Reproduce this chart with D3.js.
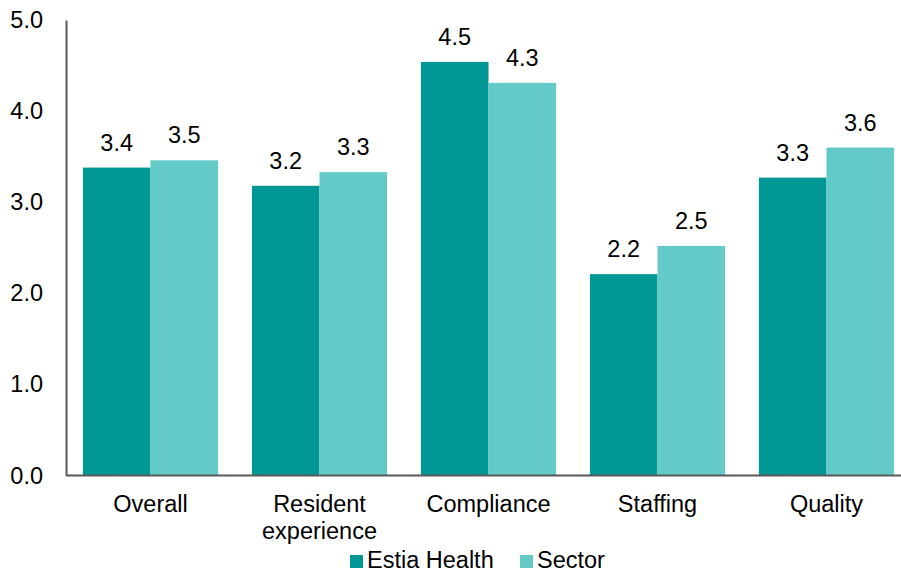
<!DOCTYPE html>
<html><head><meta charset="utf-8">
<script src="https://cdn.jsdelivr.net/npm/d3@7"></script>
<style>body{margin:0;background:#fff}svg{display:block}text{font-family:"Liberation Sans",Arial,sans-serif;fill:#000}</style>
</head><body>
<svg id="c" width="901" height="574"></svg>
<script>
const categories = [["Overall"], ["Resident", "experience"], ["Compliance"], ["Staffing"], ["Quality"]];
const seriesNames = ["Estia Health", "Sector"];
const estia = [3.38, 3.18, 4.54, 2.21, 3.27];
const sector = [3.46, 3.33, 4.31, 2.52, 3.60];
const yTicks = [0, 1, 2, 3, 4, 5];
const colors = ["#009794", "#63CAC8"];

const FS = 23.5;
const svg = d3.select("#c");
const mLeft = 66, mRight = 911, mTop = 20, mBottom = 475.5;
const keys = categories.map(c => c.join(" "));
const x = d3.scaleBand().domain(keys).range([mLeft, mRight]).paddingInner(0.2).paddingOuter(0.1);
const xs = d3.scaleBand().domain(seriesNames).range([0, x.bandwidth()]);
const y = d3.scaleLinear().domain([0, 5]).range([mBottom, mTop]);
const series = [estia, sector];

series.forEach((vals, si) => {
  svg.append("g").selectAll("rect").data(vals).join("rect")
    .attr("x", (d, i) => x(keys[i]) + xs(seriesNames[si]))
    .attr("y", d => y(d))
    .attr("width", xs.bandwidth())
    .attr("height", d => y(0) - y(d))
    .attr("fill", colors[si]);
  svg.append("g").selectAll("text").data(vals).join("text")
    .attr("x", (d, i) => x(keys[i]) + xs(seriesNames[si]) + xs.bandwidth() / 2)
    .attr("y", d => y(d) - 17)
    .attr("text-anchor", "middle")
    .attr("font-size", FS)
    .text(d => d3.format(".1f")(d));
});

// y axis
const ya = svg.append("g").attr("transform", `translate(${mLeft},0)`)
  .call(d3.axisLeft(y).tickValues(yTicks).tickFormat(d3.format(".1f")).tickSize(0).tickPadding(23));
ya.select(".domain").attr("stroke", "#595959").attr("stroke-width", 2);
ya.selectAll("text").attr("font-size", FS).attr("font-family", "Liberation Sans, Arial, sans-serif").attr("fill", "#000");

// x axis
const xa = svg.append("g").attr("transform", `translate(0,${mBottom})`)
  .call(d3.axisBottom(x).tickSize(0).tickFormat(""));
xa.select(".domain").attr("stroke", "#595959").attr("stroke-width", 2).attr("d", `M${mLeft},0H${mRight}`);
xa.selectAll(".tick").each(function(d, i) {
  const t = d3.select(this).append("text").attr("text-anchor", "middle").attr("font-size", FS).attr("fill", "#000")
    .attr("font-family", "Liberation Sans, Arial, sans-serif");
  categories[i].forEach((line, li) => t.append("tspan").attr("x", 0).attr("y", 36.5 + li * 27).text(line));
});

// legend
const leg = [{x: 350, tx: 367}, {x: 520, tx: 537}];
seriesNames.forEach((n, i) => {
  svg.append("rect").attr("x", leg[i].x).attr("y", 555).attr("width", 13).attr("height", 13).attr("fill", colors[i]);
  svg.append("text").attr("x", leg[i].tx).attr("y", 568).attr("font-size", FS).text(n);
});
</script>
</body></html>
